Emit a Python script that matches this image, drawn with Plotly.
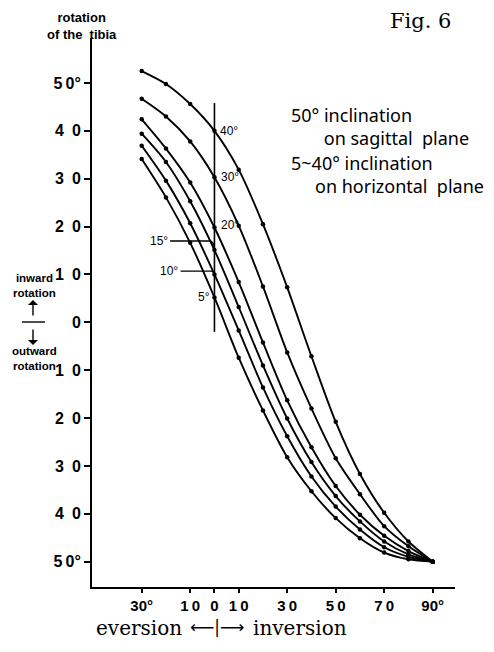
import plotly.graph_objects as go

# ---- data ----
x_vals = [-30, -20, -10, 0, 10, 20, 30, 40, 50, 60, 70, 80, 90]

incl_40 = [52.5, 49.8, 45.6, 40.0, 31.9, 20.5, 7.3, -7.1, -20.8, -31.7, -39.8, -45.8, -50.0]
incl_30 = [46.7, 43.0, 37.8, 30.3, 20.2, 7.5, -6.3, -18.0, -28.4, -35.9, -42.6, -46.8, -50.0]
incl_20 = [42.4, 36.3, 29.2, 19.8, 8.4, -4.2, -16.3, -26.1, -34.2, -40.2, -44.6, -47.8, -50.0]
incl_15 = [39.4, 33.5, 25.3, 15.1, 3.2, -9.0, -20.1, -29.2, -36.3, -41.6, -45.8, -48.5, -50.0]
incl_10 = [36.9, 29.6, 20.7, 10.0, -1.7, -13.6, -23.8, -32.2, -38.5, -43.3, -47.0, -49.0, -50.0]
incl_5 = [34.1, 26.1, 16.6, 5.2, -7.4, -18.4, -28.2, -35.3, -40.9, -45.1, -48.1, -49.5, -50.0]

series = [incl_40, incl_30, incl_20, incl_15, incl_10, incl_5]

x_tickvals = [-30, -10, 0, 10, 30, 50, 70, 90]
x_ticktext = ["30°", "1\u20090", "0", "1\u20090", "3\u20090", "5\u20090", "7\u20090", "90°"]
y_tickvals = [50, 40, 30, 20, 10, 0, -10, -20, -30, -40, -50]
y_ticktext = ["5\u20090°", "4\u20020", "3\u20020", "2\u20020", "1\u20020", "0",
              "1\u20020", "2\u20020", "3\u20020", "4\u20020", "5\u20090°"]

# ---- figure (page has an 8px body margin, so the figure is offset) ----
O = 8
W, H = 494 - O, 652 - O
L, R, T, B = 92 - O, 39, 38 - O, 65

def px(xp):
    return (xp - O - L) / (W - L - R)

def py(yp):
    return (H - B - (yp - O)) / (H - T - B)

fig = go.Figure()
for s in series:
    fig.add_trace(go.Scatter(
        x=x_vals, y=s, mode="lines+markers",
        line=dict(color="black", width=1.9, shape="spline", smoothing=0.8),
        marker=dict(color="black", size=4.5),
        showlegend=False, hoverinfo="skip"))

# vertical reference line at 0
fig.add_shape(type="line", x0=0, x1=0, y0=-2.0, y1=45.8, xref="x", yref="y",
              line=dict(color="black", width=1.6))
# leader lines for 15° and 10°
fig.add_shape(type="path", xref="x", yref="y",
              path="M -18.3,17.0 L -2.2,17.0 Q 0,17.0 0,15.1",
              line=dict(color="black", width=1.4))
fig.add_shape(type="path", xref="x", yref="y",
              path="M -14.0,10.7 L -1.5,10.7 Q 0,10.7 0,10.0",
              line=dict(color="black", width=1.4))

lab_font = dict(family="Liberation Sans", size=12, color="black")
curve_labels = [
    ("40°", 1.4, 40.0, "left"),
    ("30°", 2.0, 30.4, "left"),
    ("20°", 2.0, 20.3, "left"),
    ("15°", -18.4, 17.0, "right"),
    ("10°", -14.2, 10.8, "right"),
    ("5°", -1.2, 5.3, "right"),
]
for t, xx, yy, anc in curve_labels:
    fig.add_annotation(x=xx, y=yy, xref="x", yref="y", text=t, showarrow=False,
                       xanchor=anc, yanchor="middle", font=lab_font)

sans = "Liberation Sans"
# y-axis title
fig.add_annotation(x=px(82), y=py(8.5), xref="paper", yref="paper",
                   text="<b>rotation</b><br><b>of\u00a0the\u00a0\u00a0tibia</b>",
                   showarrow=False, xanchor="center", yanchor="top", align="center",
                   font=dict(family=sans, size=13, color="black"))
# Fig. 6
fig.add_annotation(x=px(453), y=py(21), xref="paper", yref="paper", text="Fig. 6",
                   showarrow=False, xanchor="right", yanchor="middle",
                   font=dict(family="DejaVu Serif", size=21, color="black"))
# description block
desc_font = dict(family="Noto Sans", size=18, color="black")
fig.add_annotation(x=px(289), y=py(126), xref="paper", yref="paper",
                   text="50° inclination<br>" + "\u00a0" * 7 + "on sagittal\u00a0\u00a0plane",
                   showarrow=False, xanchor="left", yanchor="middle", align="left",
                   font=desc_font)
fig.add_annotation(x=px(289), y=py(163), xref="paper", yref="paper",
                   text="5~40° inclination",
                   showarrow=False, xanchor="left", yanchor="middle", font=desc_font)
fig.add_annotation(x=px(313), y=py(186), xref="paper", yref="paper",
                   text="on horizontal\u00a0\u00a0plane",
                   showarrow=False, xanchor="left", yanchor="middle", font=desc_font)
# inward / outward
side = [
    ("<b>inward</b><br><b>rotation</b>", 285),
    ("<b>outward</b><br><b>rotation</b>", 358),
]
for t, yp in side:
    fig.add_annotation(x=px(34), y=py(yp), xref="paper", yref="paper", text=t,
                       showarrow=False, xanchor="center", yanchor="middle",
                       font=dict(family=sans, size=11.5, color="black"))
# arrows and dash
fig.add_annotation(x=px(33), y=py(300), xref="paper", yref="paper", text="",
                   showarrow=True, ax=0, ay=17, arrowhead=1, arrowsize=1.2,
                   arrowwidth=1.4, arrowcolor="black")
fig.add_annotation(x=px(33), y=py(345), xref="paper", yref="paper", text="",
                   showarrow=True, ax=0, ay=-17, arrowhead=1, arrowsize=1.2,
                   arrowwidth=1.4, arrowcolor="black")
fig.add_shape(type="line", xref="paper", yref="paper", x0=px(22), x1=px(45),
              y0=py(322), y1=py(322), line=dict(color="black", width=1.4))
# bottom axis title
fig.add_annotation(x=px(184), y=py(628), xref="paper", yref="paper", text="eversion",
                   showarrow=False, xanchor="right", yanchor="middle",
                   font=dict(family="DejaVu Serif", size=20, color="black"))
fig.add_annotation(x=px(217), y=py(627), xref="paper", yref="paper", text="⟵|⟶",
                   showarrow=False, xanchor="center", yanchor="middle",
                   font=dict(family="DejaVu Sans", size=17, color="black"))
fig.add_annotation(x=px(251), y=py(628), xref="paper", yref="paper", text="inversion",
                   showarrow=False, xanchor="left", yanchor="middle",
                   font=dict(family="DejaVu Serif", size=20, color="black"))

fig.update_xaxes(range=[-50.5, 99.2], tickvals=x_tickvals, ticktext=x_ticktext,
                 showgrid=False, zeroline=False, showline=True, linecolor="black",
                 linewidth=2, ticks="outside", ticklen=4, tickwidth=1.5, tickcolor="black",
                 tickfont=dict(family=sans, size=15, color="black", weight="bold"))
fig.update_yaxes(range=[-55.3, 59.4], tickvals=y_tickvals, ticktext=y_ticktext,
                 showgrid=False, zeroline=False, showline=True, linecolor="black",
                 linewidth=2, ticks="outside", ticklen=6, tickwidth=1.5, tickcolor="black",
                 tickfont=dict(family=sans, size=16, color="black", weight="bold"))
fig.update_layout(width=W, height=H, margin=dict(l=L, r=R, t=T, b=B),
                  plot_bgcolor="white", paper_bgcolor="white", showlegend=False)

fig.write_html("out.html")
